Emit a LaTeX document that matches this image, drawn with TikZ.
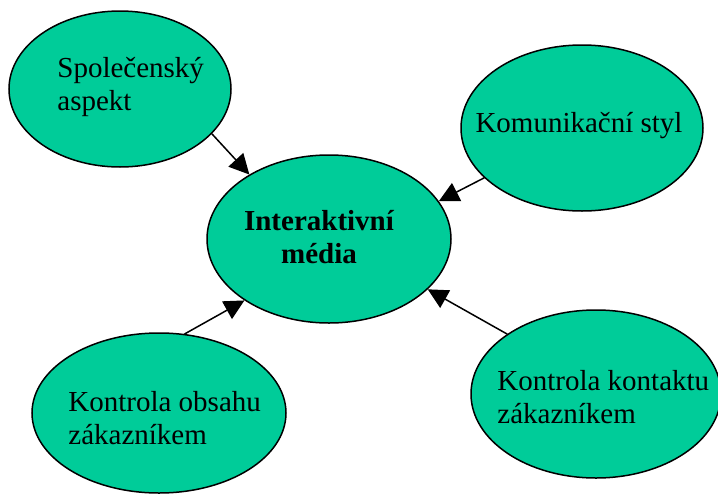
\documentclass[tikz,border=0pt]{standalone}
\usepackage{fontspec}
\setmainfont{Liberation Serif}
\usetikzlibrary{arrows.meta,shapes.geometric}
\definecolor{bubblegreen}{RGB}{0,204,153}

\begin{document}
\begin{tikzpicture}[x=0.5pt, y=-0.5pt, >={Triangle[length=10pt,width=10pt]}, line cap=round,
	bubble/.style={ellipse, draw=black, line width=0.75pt, fill=bubblegreen, inner sep=0pt},
	caption/.style={inner sep=0pt, font=\fontsize{14.5}{16.5}\selectfont},
	link/.style={->, line width=0.75pt}]
	% -------- Frame (pixel units, y downwards) --------
	\useasboundingbox (0,0) rectangle (718,493);
	\clip (0,0) rectangle (718,493);
	
	% Bubbles
	\node[bubble, minimum width=111pt, minimum height=78pt] (social) at (120,89) {};
	\node[bubble, minimum width=121pt, minimum height=83pt] (comm) at (582,128) {};
	\node[bubble, minimum width=122pt, minimum height=84pt] (media) at (329,239) {};
	\node[bubble, minimum width=127pt, minimum height=80pt] (content) at (159,413) {};
	\node[bubble, minimum width=125pt, minimum height=84pt] (contact) at (596,394) {};
	
	% Texts inside the bubbles
	\node[caption, align=left, anchor=west] (socialtext) at (57,87) {Společenský\\aspekt};
	\node[caption] (commtext) at (579,126) {Komunikační styl};
	\node[caption, align=center, font=\fontsize{14.5}{16.5}\selectfont\bfseries] (mediatext) at (319,237) {Interaktivní\\média};
	\node[caption, align=left, anchor=west] (contenttext) at (68,418) {Kontrola obsahu\\zákazníkem};
	\node[caption, align=left, anchor=west] (contacttext) at (497,397) {Kontrola kontaktu\\zákazníkem};
	
	% Arrows into the centre
	\draw[link] (social.-26) -- (media.141);
	\draw[link] (comm.-153) -- (media.19);
	\draw[link] (content.72) -- (media.-144);
	\draw[link] (contact.146) -- (media.-27);
\end{tikzpicture}
\end{document}
